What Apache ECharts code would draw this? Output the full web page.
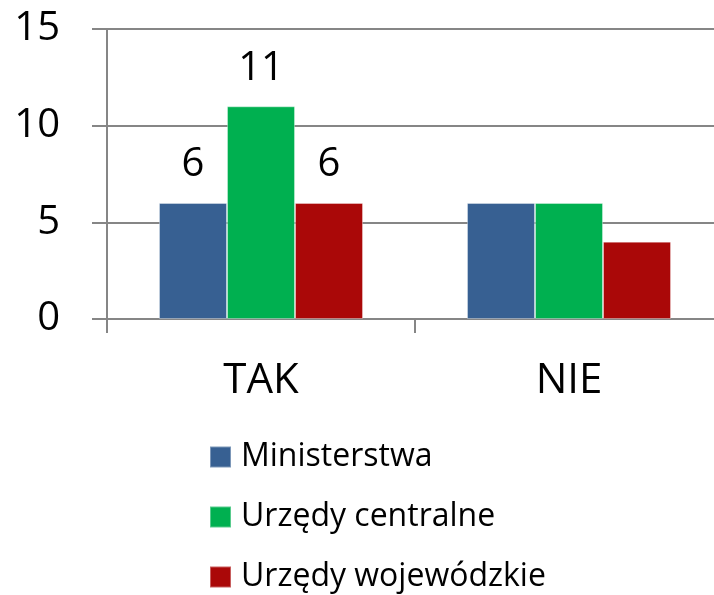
<!DOCTYPE html>
<html>
<head>
<meta charset="utf-8">
<script src="https://cdn.jsdelivr.net/npm/echarts@6/dist/echarts.min.js"></script>
<style>
  html, body { margin: 0; padding: 0; overflow: hidden; background: #fff; }
  #chart { width: 723px; height: 595px; }
</style>
</head>
<body>
<div id="chart"></div>
<script>
// dane z wykresu
const categories = ['TAK', 'NIE'];
const seriesNames = ['Ministerstwa', 'Urzędy centralne', 'Urzędy wojewódzkie'];
const ministerstwa = [6, 6];
const urzedyCentralne = [11, 6];
const urzedyWojewodzkie = [6, 4];
const showValueLabel = [true, false]; // etykiety tylko przy TAK
const yTicks = [0, 5, 10, 15];

const colors = ['#376092', '#00B050', '#AA0808'];
const font = 'Open Sans';

let myChart = echarts.init(document.getElementById('chart'));

function makeSeries(name, values, idx) {
  return {
    name: name,
    type: 'bar',
    barWidth: 68,
    barGap: 0,
    barCategoryGap: '33.4%',
    data: values,
    itemStyle: {
      color: colors[idx],
      borderColor: 'rgba(255,255,255,0.35)',
      borderWidth: 1
    },
    label: {
      show: true,
      position: 'top',
      distance: 18,
      fontFamily: font,
      fontSize: 40,
      color: '#000',
      formatter: p => showValueLabel[p.dataIndex] ? String(p.value) : ''
    }
  };
}

let option = {
  animation: false,
  textStyle: { fontFamily: font },
  grid: {
    left: 107,
    right: 0,
    top: 29,
    bottom: 276,
    containLabel: false
  },
  legend: {
    orient: 'vertical',
    left: 209,
    top: 441,
    padding: 0,
    itemWidth: 21,
    itemHeight: 21,
    itemGap: 28,
    icon: 'rect',
    data: seriesNames,
    textStyle: {
      fontFamily: font,
      fontSize: 32,
      lineHeight: 32,
      color: '#000',
      padding: [0, 0, 0, 5]
    }
  },
  xAxis: {
    type: 'category',
    data: categories,
    axisLine: { lineStyle: { color: '#868686', width: 2 } },
    axisTick: { show: true, length: 14, lineStyle: { color: '#868686', width: 2 } },
    axisLabel: {
      margin: 41,
      fontFamily: font,
      fontSize: 42,
      color: '#000'
    }
  },
  yAxis: {
    type: 'value',
    min: yTicks[0],
    max: yTicks[yTicks.length - 1],
    interval: 5,
    axisLine: { show: true, lineStyle: { color: '#868686', width: 2 } },
    axisTick: { show: true, length: 15, lineStyle: { color: '#868686', width: 2 } },
    splitLine: { show: true, lineStyle: { color: '#868686', width: 2 } },
    axisLabel: {
      margin: 47,
      fontFamily: font,
      fontSize: 40,
      color: '#000'
    }
  },
  series: [
    makeSeries(seriesNames[0], ministerstwa, 0),
    makeSeries(seriesNames[1], urzedyCentralne, 1),
    makeSeries(seriesNames[2], urzedyWojewodzkie, 2)
  ]
};
myChart.setOption(option);
</script>
</body>
</html>
